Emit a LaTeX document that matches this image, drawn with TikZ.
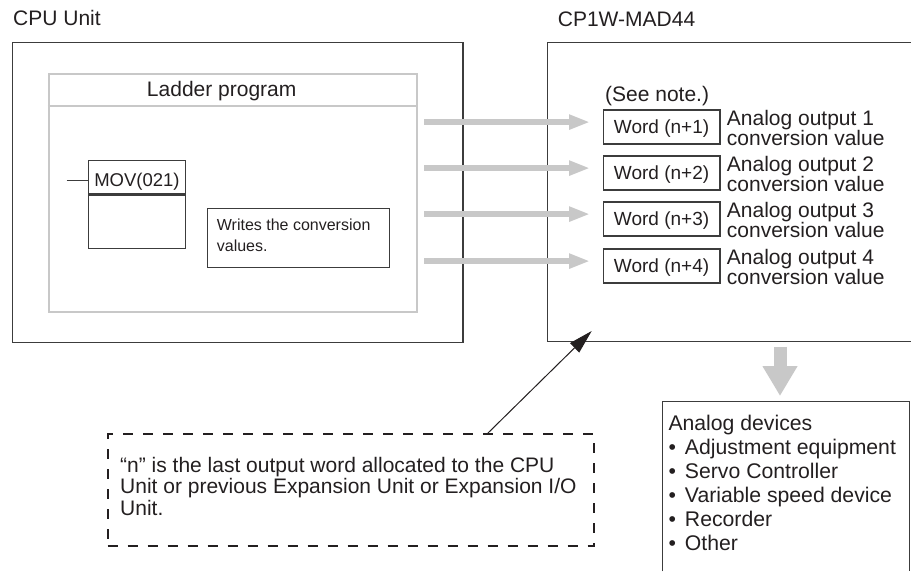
\documentclass[tikz,border=0pt]{standalone}
\usepackage{fontspec}
\setmainfont{Liberation Sans}
\usetikzlibrary{arrows.meta}
\definecolor{ink}{HTML}{231F20}
\definecolor{framec}{HTML}{3C3C3C}
\definecolor{lgray}{HTML}{C8C8C8}
\newcommand{\blt}{\makebox[16.5pt][l]{•}}
\tikzset{
  fr/.style={draw=framec, line width=1.2pt},
  big/.style={font=\fontsize{21}{20}\selectfont, text=ink, inner sep=0pt},
  plainbox/.style={anchor=north west, inner sep=0pt},
  wordbox/.style={fr, anchor=north west, minimum width=116.6pt, minimum height=34pt, inner sep=0pt,
    font=\fontsize{19}{20}\selectfont, text=ink, text height=14pt, text depth=0pt},
  feed/.style={lgray, line width=6pt, -{Triangle[length=21pt,width=14pt]}},
  pointer/.style={ink, line width=1pt, -{Triangle[length=24pt,width=13pt]}},
  multi/.style={anchor=north west, align=left, inner sep=0pt, text=ink}
}
\begin{document}
\begin{tikzpicture}[x=1pt,y=-1pt]
\useasboundingbox (0,0) rectangle (911,571);

% CPU Unit
\node[big, anchor=base west] (cputitle) at (13,25.5) {CPU Unit};
\node[fr, plainbox, minimum width=450.3pt, minimum height=299.7pt] (cpu) at (12,42) {};

% Ladder program
\node[draw=lgray, line width=2.2pt, plainbox, minimum width=368.3pt, minimum height=238pt] (ladder) at (47.7,72.7) {};
\draw[lgray, line width=2.2pt] ([yshift=-33pt]ladder.north west) -- ([yshift=-33pt]ladder.north east);
\node[big, anchor=base] (laddertitle) at (221.7,96.5) {Ladder program};

% MOV instruction
\node[fr, plainbox, minimum width=97.3pt, minimum height=33.3pt, font=\fontsize{18.5}{20}\selectfont,
  text=ink, text height=18.6pt, text depth=0pt] (mov) at (87.7,160) {MOV(021)};
\node[fr, plainbox, minimum width=97.3pt, minimum height=53.4pt] (movbody) at (mov.south west) {};
\coordinate (rung) at (66.7,180.3);
\draw[fr] (rung) -- (rung -| mov.west);

% Writes box
\node[fr, plainbox, minimum width=182.3pt, minimum height=59pt] (writes) at (206.7,207.7) {};
\node[multi, font=\fontsize{16}{21.7}\selectfont] (writestxt) at (216.7,218.5) {Writes the conversion\\values.};

% CP1W-MAD44
\node[big, anchor=base west] (madtitle) at (557.7,26) {CP1W-MAD44};
\node[plainbox, minimum width=363.3pt, minimum height=298.7pt] (mad) at (547.7,42.3) {};
\draw[fr] (mad.north east) -- (mad.north west) -- (mad.south west) -- (mad.south east);
\node[big, anchor=base west] (seenote) at (605,101.7) {(See note.)};

\foreach \i/\t in {1/109.3,2/155.3,3/201.3,4/248.3} {
  \node[wordbox] (w\i) at (602.7,\t) {Word (n+\i)};
  \node[multi, font=\fontsize{21}{20}\selectfont] (a\i) at (726.7,\t+0.7) {Analog output \i\\conversion value};
  \coordinate (s\i) at (424,\t+12.8);
  \draw[feed] (s\i) -- ([xshift=-12.7pt]s\i -| w\i.west);
}

% Note box
\node[draw=ink, line width=2pt, dash pattern=on 10pt off 10pt, plainbox, minimum width=486.6pt, minimum height=111.7pt] (note) at (106.7,433.3) {};
\node[multi, font=\fontsize{21}{21.7}\selectfont] (notetxt) at (120,456.7) {“n” is the last output word allocated to the CPU\\Unit or previous Expansion Unit or Expansion I/O\\Unit.};
\coordinate (nend) at (591.7,331);
\draw[pointer] ([xshift=381pt]note.north west) -- (nend);

% Analog devices
\node[plainbox, minimum width=246.6pt, minimum height=169.3pt] (dev) at (662.7,401.7) {};
\draw[fr] (dev.south west) -- (dev.north west) -- (dev.north east) -- (dev.south east);
\node[multi, font=\fontsize{21.2}{24}\selectfont] (devtxt) at (668.3,414.8) {Analog devices\\\blt Adjustment equipment\\\blt Servo Controller\\\blt Variable speed device\\\blt Recorder\\\blt Other};
\coordinate (dstart) at (780,346.7);
\draw[lgray, line width=13pt, -{Triangle[length=30pt,width=33pt]}] (dstart) -- ([yshift=5.7pt]dstart |- dev.north);
\end{tikzpicture}
\end{document}
